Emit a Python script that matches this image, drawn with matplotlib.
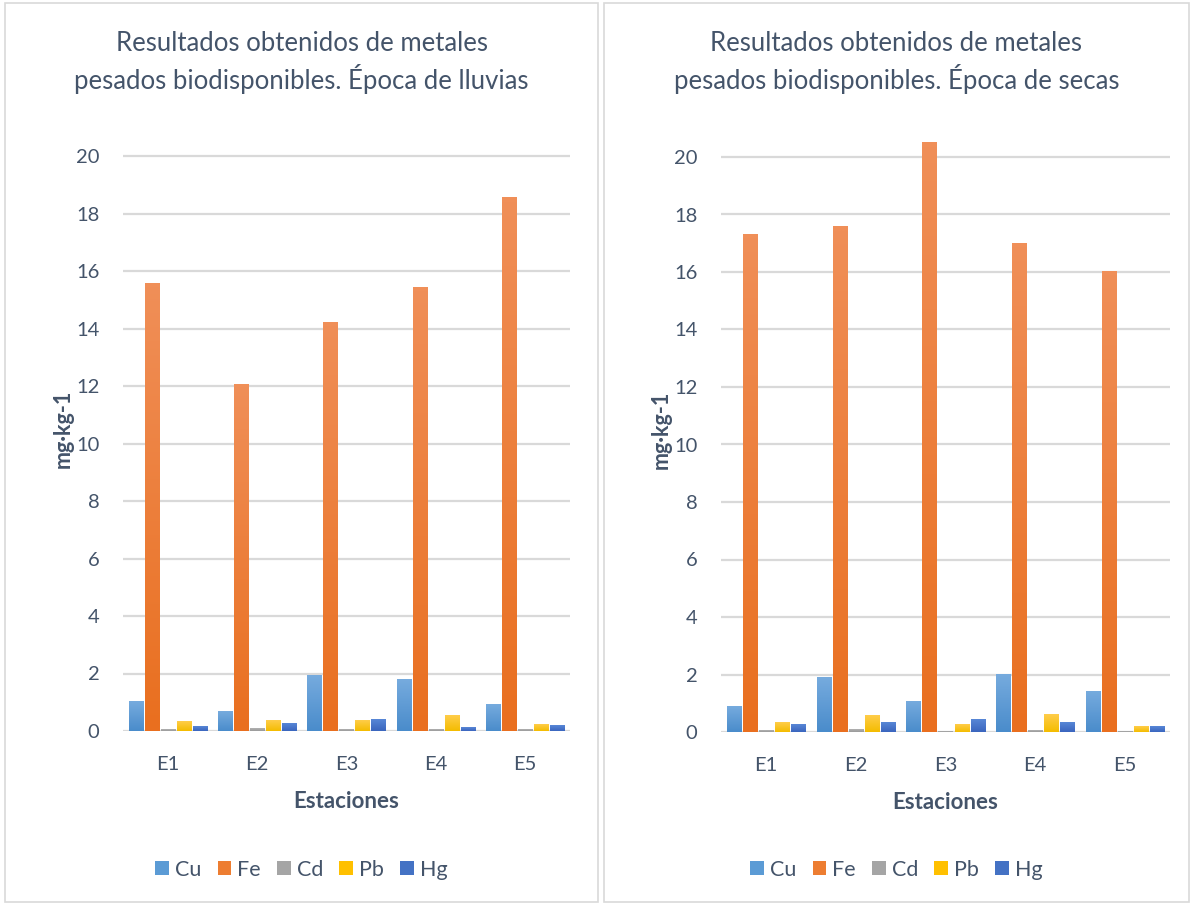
import matplotlib
matplotlib.use('Agg')
import matplotlib.pyplot as plt
import numpy as np
from matplotlib.colors import LinearSegmentedColormap
from matplotlib.patches import Rectangle

plt.rcParams['font.family'] = ['Lato', 'DejaVu Sans']

stations = ['E1', 'E2', 'E3', 'E4', 'E5']
metals = ['Cu', 'Fe', 'Cd', 'Pb', 'Hg']

# mg/kg, rainy season
rainy_cu = [1.02, 0.67, 1.93, 1.79, 0.91]
rainy_fe = [15.56, 12.06, 14.21, 15.42, 18.54]
rainy_cd = [0.035, 0.07, 0.035, 0.035, 0.035]
rainy_pb = [0.32, 0.35, 0.35, 0.53, 0.21]
rainy_hg = [0.14, 0.25, 0.39, 0.11, 0.18]

# mg/kg, dry season
dry_cu = [0.88, 1.91, 1.06, 2.01, 1.41]
dry_fe = [17.29, 17.57, 20.52, 16.98, 16.01]
dry_cd = [0.035, 0.07, 0.005, 0.035, 0.005]
dry_pb = [0.32, 0.56, 0.25, 0.60, 0.18]
dry_hg = [0.25, 0.32, 0.42, 0.32, 0.18]

titles = ['Resultados obtenidos de metales\npesados biodisponibles. Época de lluvias',
          'Resultados obtenidos de metales\npesados biodisponibles. Época de secas']

base_colors = ['#5B9BD5', '#ED7D31', '#A5A5A5', '#FFC000', '#4472C4']
# (top, bottom) shades for the vertical fill
shades = [('#76ABDE', '#4A8CCB'), ('#F08F58', '#E96F1F'), ('#B2B2B2', '#9A9A9A'),
          ('#FFCD4A', '#F4BC00'), ('#5887D6', '#3A65BE')]
text_color = '#44546A'
grid_color = '#D9D9D9'

fig = plt.figure(figsize=(11.92, 9.05), dpi=100)

# panel frames
for x0, x1 in [(5, 598), (604, 1189)]:
    fig.patches.append(Rectangle((x0 / 1192, 3 / 905), (x1 - x0) / 1192, 899 / 905,
                                 transform=fig.transFigure, fill=False,
                                 edgecolor=grid_color, lw=1.2))

panels = [
    dict(data=[rainy_cu, rainy_fe, rainy_cd, rainy_pb, rainy_hg], left=123, right=570,
         zero=731, center=301.5),
    dict(data=[dry_cu, dry_fe, dry_cd, dry_pb, dry_hg], left=721, right=1170,
         zero=732, center=896.5),
]

slot = 0.179
bar_w = 0.157
x = np.arange(len(stations))

for p, title in zip(panels, titles):
    px_per_unit = 28.75
    top_px = p['zero'] - 21 * px_per_unit
    ax = fig.add_axes([p['left'] / 1192, 1 - p['zero'] / 905,
                       (p['right'] - p['left']) / 1192, (p['zero'] - top_px) / 905])
    handles = []
    for i, (vals, col, (c_top, c_bot)) in enumerate(zip(p['data'], base_colors, shades)):
        bars = ax.bar(x + (i - 2) * slot, vals, width=bar_w, color=col, zorder=3,
                      label=metals[i])
        handles.append(bars)
        cmap = LinearSegmentedColormap.from_list('g', [c_bot, c_top])
        grad = np.linspace(0, 1, 100).reshape(-1, 1)
        for b in bars:
            bx, bw, bh = b.get_x(), b.get_width(), b.get_height()
            ax.imshow(grad, extent=[bx, bx + bw, 0, bh], origin='lower', cmap=cmap,
                      aspect='auto', zorder=3.5, interpolation='bilinear')

    ax.set_xlim(-0.5, 4.5)
    ax.set_ylim(0, 21)
    ax.set_yticks(np.arange(0, 21, 2))
    ax.set_xticks(x)
    ax.set_xticklabels(stations)
    ax.grid(axis='y', color=grid_color, lw=1.6, zorder=0)
    for s in ax.spines.values():
        s.set_visible(False)
    ax.tick_params(length=0, labelsize=14.5, colors=text_color)
    ax.tick_params(axis='x', pad=18)
    ax.tick_params(axis='y', pad=17)

    ax.set_xlabel('Estaciones', fontsize=16, fontweight='bold', color=text_color,
                  va='center')
    ax.xaxis.set_label_coords(0.5, -0.116)
    ax.set_ylabel('mg·kg-1', fontsize=15.5, fontweight='bold', color=text_color,
                  va='center')
    ax.yaxis.set_label_coords(-0.134, 0.5)

    fig.text(p['center'] / 1192, 1 - 62.5 / 905, title, ha='center', va='center',
             fontsize=18.5, color=text_color, linespacing=1.3)

    fig.legend(handles=handles, labels=metals, loc='center',
               bbox_to_anchor=(p['center'] / 1192, 1 - 870 / 905), ncol=5,
               frameon=False, fontsize=15.5, labelcolor=text_color,
               handlelength=0.62, handleheight=0.62, handletextpad=0.3,
               columnspacing=0.75)

fig.savefig('out.png', dpi=100, facecolor='white')
